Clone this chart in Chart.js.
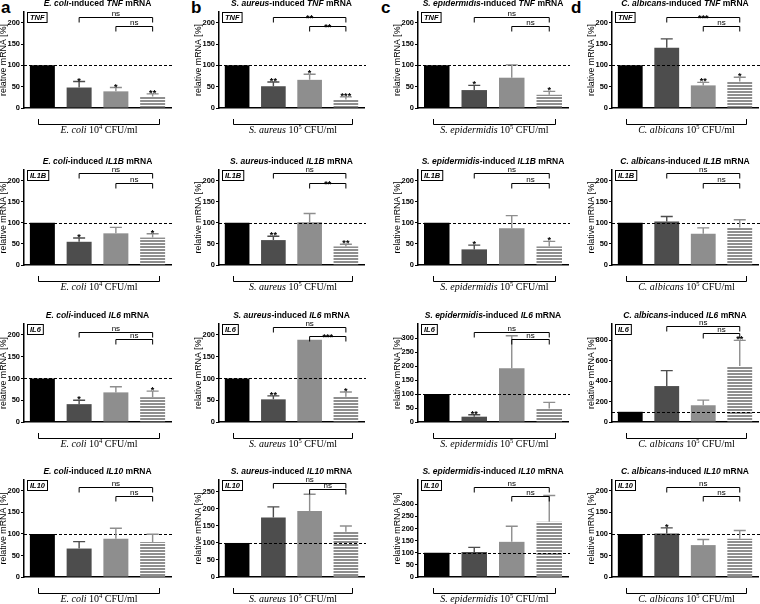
<!DOCTYPE html>
<html><head><meta charset="utf-8">
<script src="https://cdn.jsdelivr.net/npm/chart.js@4/dist/chart.umd.min.js"></script>
<style>
html,body{margin:0;padding:0;background:#fff;width:760px;height:604px;overflow:hidden;position:relative;}
canvas{position:absolute;}
.lbl{position:absolute;font:bold 17px "Liberation Sans",Arial,sans-serif;color:#000;line-height:17px;}
</style></head><body>
<div class="lbl" style="left:1px;top:-1px">a</div>
<div class="lbl" style="left:191px;top:-1px">b</div>
<div class="lbl" style="left:381px;top:-1px">c</div>
<div class="lbl" style="left:571px;top:-1px">d</div>
<script>
// ---------------- DATA ----------------
const genes = ['TNF','IL1B','IL6','IL10'];
const organisms = ['E. coli','S. aureus','S. epidermidis','C. albicans'];
const doseExp = ['4','5','5','5'];
const catsEcoli = ['CTL','GEN','PTX','GEN/PTX'];
const catsSaureus = ['CTL','VAN','PTX','VAN/PTX'];
const catsSepidermidis = ['CTL','VAN','PTX','VAN/PTX'];
const catsCalbicans = ['CTL','AMB','PTX','AMB/PTX'];

// columns: E. coli, S. aureus, S. epidermidis, C. albicans
const meanTNF  = [[100,48,39,27],[100,51,66,20],[100,42,71,31],[100,141,53,62]];
const semTNF   = [[0,14,9,6],[0,10,13,6],[0,11,30,8],[0,21,7,10]];
const starsTNF = [['','*','*','**'],['','**','*','***'],['','*','','*'],['','','**','*']];
const sigTNF   = [['ns','ns'],['**','**'],['ns','ns'],['***','ns']];

const meanIL1B  = [[100,55,75,65],[100,59,101,44],[100,37,87,44],[100,103,74,89]];
const semIL1B   = [[0,9,14,9],[0,9,21,5],[0,10,30,12],[0,12,14,18]];
const starsIL1B = [['','*','','*'],['','**','','**'],['','*','','*'],['','','','']];
const sigIL1B   = [['ns','ns'],['ns','**'],['ns','ns'],['ns','ns']];

const meanIL6  = [[100,41,68,57],[100,52,189,58],[100,19,192,48],[100,352,164,549]];
const semIL6   = [[0,9,13,14],[0,8,0,11],[0,7,116,22],[0,151,50,251]];
const starsIL6 = [['','*','','*'],['','**','','*'],['','**','',''],['','','','**']];
const sigIL6   = [['ns','ns'],['ns','***'],['ns','ns'],['ns','ns']];

const meanIL10  = [[100,66,89,81],[100,175,194,133],[100,103,145,228],[100,101,74,89]];
const semIL10   = [[0,16,24,18],[0,31,49,17],[0,19,64,108],[0,13,13,19]];
const starsIL10 = [['','','',''],['','','',''],['','','',''],['','*','','']];
const sigIL10   = [['ns','ns'],['ns','ns'],['ns','ns'],['ns','ns']];

// y axis: top of axis, highest labelled tick, tick step
const yAxisTop = [[225,225,225,225],[225,225,225,225],[225,225,350,960],[225,285,400,225]];
const yTickTop = [[200,200,200,200],[200,200,200,200],[200,200,300,800],[200,250,300,200]];
const yStep    = [[50,50,50,50],[50,50,50,50],[50,50,50,200],[50,50,50,50]];

// ---------------- LAYOUT ----------------
const catsAll = [catsEcoli, catsSaureus, catsSepidermidis, catsCalbicans];
const meanAll = [meanTNF, meanIL1B, meanIL6, meanIL10];
const semAll = [semTNF, semIL1B, semIL6, semIL10];
const starsAll = [starsTNF, starsIL1B, starsIL6, starsIL10];
const sigAll = [sigTNF, sigIL1B, sigIL6, sigIL10];

const colAxisX = [24, 219, 418, 612];
const colPlotW = [147, 145, 150, 146];
const rowPlotTop = [12, 170, 324, 480];
const rowPlotH = [96, 95, 98, 97];
const bracketOff = [
  [[5,14],[5,14],[5,14],[5,14]],
  [[3,13],[3,13],[3,13],[3,13]],
  [[8,15],[3,12],[8,15],[2,9]],
  [[7,16],[3,9],[7,16],[7,16]]
];
const YW = 26, PT = 14, PB = 34, XH = 12;

const SANS = '"Liberation Sans", Arial, sans-serif';
const SERIF = '"Liberation Serif", "Times New Roman", serif';
Chart.defaults.font.family = SANS;

const barColors = ['#000000','#4d4d4d','#8e8e8e'];
const errColors = ['#000000','#4d4d4d','#8e8e8e','#8e8e8e'];
function stripePattern(){
  const c = document.createElement('canvas'); c.width = 4; c.height = 3;
  const g = c.getContext('2d');
  g.fillStyle = '#ffffff'; g.fillRect(0,0,4,3);
  g.fillStyle = '#8e8e8e'; g.fillRect(0,0,4,2);
  return g.createPattern(c,'repeat');
}

function drawSegs(ctx, segs, cx, cy){
  let w = 0;
  segs.forEach(s => { ctx.font = s.font; s.w = ctx.measureText(s.t).width; w += s.w; });
  let x = cx - w/2;
  ctx.textAlign = 'left'; ctx.textBaseline = 'middle';
  segs.forEach(s => { ctx.font = s.font; ctx.fillText(s.t, x, cy + (s.dy||0)); x += s.w; });
}

const decor = {
  id: 'decor',
  afterDatasetsDraw(chart, args, o){
    const r = o.r, c = o.c;
    const ctx = chart.ctx, ca = chart.chartArea, y = chart.scales.y;
    const meta = chart.getDatasetMeta(0);
    const xs = meta.data.map(b => b.x);
    const mean = meanAll[r][c], sem = semAll[r][c], stars = starsAll[r][c], sig = sigAll[r][c];
    ctx.save();
    ctx.fillStyle = '#000';
    // dashed reference line at 100
    ctx.strokeStyle = '#000'; ctx.lineWidth = 1; ctx.setLineDash([3,2]);
    const y100 = Math.round(y.getPixelForValue(100)) + 0.5;
    ctx.beginPath(); ctx.moveTo(ca.left, y100); ctx.lineTo(ca.right + 2, y100); ctx.stroke();
    ctx.setLineDash([]);
    // error bars and stars
    xs.forEach((bx, i) => {
      let top = y.getPixelForValue(mean[i]);
      if (sem[i] > 0){
        const et = y.getPixelForValue(mean[i] + sem[i]);
        ctx.strokeStyle = errColors[i]; ctx.lineWidth = 1.4;
        ctx.beginPath(); ctx.moveTo(bx, top); ctx.lineTo(bx, et);
        ctx.moveTo(bx - 6, et); ctx.lineTo(bx + 6, et); ctx.stroke();
        top = et;
      }
      if (stars[i]){
        ctx.fillStyle = '#000'; ctx.font = 'bold 9px ' + SANS;
        ctx.textAlign = 'center'; ctx.textBaseline = 'alphabetic';
        ctx.fillText(stars[i], bx, top + 2);
      }
    });
    // significance brackets
    const pairs = [[1,3],[2,3]];
    pairs.forEach((p, k) => {
      const yy = Math.round(ca.top + bracketOff[r][c][k]) + 0.5;
      ctx.strokeStyle = '#000'; ctx.lineWidth = 1;
      ctx.beginPath();
      ctx.moveTo(xs[p[0]], yy + 5); ctx.lineTo(xs[p[0]], yy);
      ctx.lineTo(xs[p[1]], yy); ctx.lineTo(xs[p[1]], yy + 5); ctx.stroke();
      ctx.fillStyle = '#000'; ctx.textAlign = 'center'; ctx.textBaseline = 'alphabetic';
      const mx = (xs[p[0]] + xs[p[1]]) / 2;
      if (sig[k] === 'ns'){ ctx.font = '8px ' + SANS; ctx.fillText('ns', mx, yy - 1.5); }
      else { ctx.font = 'bold 9px ' + SANS; ctx.fillText(sig[k], mx, yy + 3); }
    });
    // gene box
    ctx.font = 'italic bold 7.5px ' + SANS;
    const gw = ctx.measureText(genes[r]).width + 5;
    const gx = Math.round(ca.left + 3) + 0.5, gy = Math.round(ca.top) + 0.5;
    ctx.fillStyle = '#fff'; ctx.fillRect(gx, gy, gw, 10);
    ctx.strokeStyle = '#000'; ctx.lineWidth = 1; ctx.strokeRect(gx, gy, gw, 10);
    ctx.fillStyle = '#000'; ctx.textAlign = 'center'; ctx.textBaseline = 'middle';
    ctx.fillText(genes[r], gx + gw/2, gy + 5.5);
    // title
    const tb = 'bold 8.5px ' + SANS, ti = 'italic bold 8.5px ' + SANS;
    drawSegs(ctx, [{t: organisms[c], font: ti}, {t: '-induced ', font: tb}, {t: genes[r], font: ti}, {t: ' mRNA', font: tb}],
      (ca.left + ca.right)/2, ca.top - 8);
    // bottom bracket
    const x1 = Math.round(xs[0] - 4) + 0.5, x2 = Math.round(xs[3] + 6) + 0.5, yb = Math.round(ca.bottom + 16) + 0.5;
    ctx.strokeStyle = '#000'; ctx.lineWidth = 1;
    ctx.beginPath(); ctx.moveTo(x1, ca.bottom + 11); ctx.lineTo(x1, yb); ctx.lineTo(x2, yb); ctx.lineTo(x2, ca.bottom + 11); ctx.stroke();
    drawSegs(ctx, [{t: organisms[c], font: 'italic 10px ' + SERIF}, {t: ' 10', font: '10px ' + SERIF},
      {t: doseExp[c], font: '6.5px ' + SERIF, dy: -3}, {t: ' CFU/ml', font: '10px ' + SERIF}],
      (x1 + x2)/2, ca.bottom + 22);
    ctx.restore();
  }
};

function makeChart(r, c){
  const cv = document.createElement('canvas');
  const W = YW + colPlotW[c] + 6, H = PT + rowPlotH[r] + PB;
  cv.width = W; cv.height = H;
  cv.style.width = W + 'px'; cv.style.height = H + 'px';
  cv.style.left = (colAxisX[c] - YW) + 'px'; cv.style.top = (rowPlotTop[r] - PT) + 'px';
  document.body.appendChild(cv);
  const tickTop = yTickTop[r][c], step = yStep[r][c];
  new Chart(cv, {
    type: 'bar',
    data: { labels: catsAll[c], datasets: [{
      data: meanAll[r][c],
      backgroundColor: [barColors[0], barColors[1], barColors[2], stripePattern()],
      borderWidth: 0, barPercentage: 0.68, categoryPercentage: 1 }] },
    options: {
      responsive: false, animation: false, devicePixelRatio: 1,
      layout: { padding: { top: PT, right: 6, bottom: PB - XH, left: 0 } },
      plugins: { legend: { display: false }, tooltip: { enabled: false }, decor: { r: r, c: c } },
      scales: {
        x: {
          grid: { display: false },
          border: { display: true, color: '#000', width: 1.5 },
          ticks: { color: '#000', font: { size: 7.5, weight: 'bold' }, padding: 3, maxRotation: 0, autoSkip: false },
          afterFit(s){ s.height = XH; }
        },
        y: {
          min: 0, max: yAxisTop[r][c],
          ticks: { color: '#000', font: { size: 7.5, weight: 'bold' }, padding: 1, autoSkip: false },
          afterBuildTicks(s){
            const t = [];
            for (let v = 0; v <= tickTop + 1e-9; v += step) t.push({ value: v });
            s.ticks = t;
          },
          grid: { drawOnChartArea: false, color: '#000', tickLength: 3, lineWidth: 1 },
          border: { display: true, color: '#000', width: 1.5 },
          title: { display: true, text: 'relative mRNA [%]', color: '#000', font: { size: 8.8 }, padding: 0 },
          afterFit(s){ s.width = YW; }
        }
      }
    },
    plugins: [decor]
  });
}
for (let r = 0; r < 4; r++) for (let c = 0; c < 4; c++) makeChart(r, c);
</script>
</body></html>
